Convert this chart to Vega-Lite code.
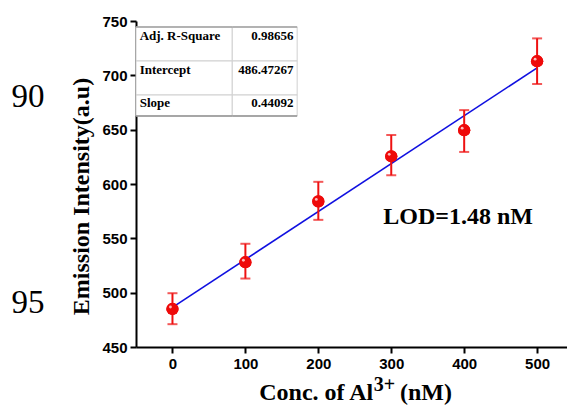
{
  "$schema": "https://vega.github.io/schema/vega-lite/v6.json",
  "width": 431,
  "height": 326,
  "autosize": {"type": "none"},
  "padding": {"left": 136, "top": 21, "right": 0, "bottom": 58},
  "background": "white",
  "config": {"view": {"stroke": null}},
  "datasets": {
    "pts": [
      {"conc": 0, "intensity": 485, "lo": 471, "hi": 499.5},
      {"conc": 100, "intensity": 528, "lo": 513, "hi": 545},
      {"conc": 200, "intensity": 584, "lo": 567, "hi": 602},
      {"conc": 300, "intensity": 625.5, "lo": 608, "hi": 645},
      {"conc": 400, "intensity": 649.5, "lo": 629.5, "hi": 668},
      {"conc": 500, "intensity": 713, "lo": 692, "hi": 734}
    ],
    "fit": [
      {"conc": 0, "intensity": 486.47267},
      {"conc": 500, "intensity": 706.93267}
    ],
    "cells": [
      {"x": -50, "x2": 82, "y": 744.5, "y2": 713.2},
      {"x": 82, "x2": 171, "y": 744.5, "y2": 713.2},
      {"x": -50, "x2": 82, "y": 713.2, "y2": 681.9},
      {"x": 82, "x2": 171, "y": 713.2, "y2": 681.9},
      {"x": -50, "x2": 82, "y": 681.9, "y2": 662.6},
      {"x": 82, "x2": 171, "y": 681.9, "y2": 662.6}
    ],
    "table": [
      {"name": "Adj. R-Square", "value": "0.98656", "y": 736.2},
      {"name": "Intercept", "value": "486.47267", "y": 704.9},
      {"name": "Slope", "value": "0.44092", "y": 674.5}
    ],
    "notes": [
      {"label": "LOD=1.48 nM", "x": 289, "y": 569.7}
    ],
    "stray": [
      {"label": "90", "x": -198, "y": 680.5},
      {"label": "95", "x": -198, "y": 490.9}
    ],
    "xtitle_main": [
      {"label": "Conc. of Al", "x": 275.3, "y": 401.5}
    ],
    "xtitle_sup": [
      {"label": "3+", "x": 276.0, "y": 409.5}
    ],
    "xtitle_unit": [
      {"label": "(nM)", "x": 312, "y": 401.5}
    ]
  },
  "layer": [
    {
      "data": {"name": "pts"},
      "mark": {"type": "point", "filled": true, "color": "#ee0a0a", "size": 150, "opacity": 1},
      "encoding": {
        "x": {"field": "conc", "type": "quantitative", "scale": {"domain": [-50, 541], "nice": false, "zero": false},
          "axis": {
            "values": [0, 100, 200, 300, 400, 500],
            "labelOverlap": false,
            "grid": false, "domainColor": "black", "domainWidth": 2, "tickColor": "black", "tickWidth": 2, "tickSize": 6,
            "labelFont": "Liberation Sans", "labelFontWeight": "bold", "labelFontSize": 15, "labelColor": "black", "labelPadding": 3,
            "title": null
          }},
        "y": {"field": "intensity", "type": "quantitative", "scale": {"domain": [450, 750], "nice": false, "zero": false},
          "axis": {
            "values": [450, 475, 500, 525, 550, 575, 600, 625, 650, 675, 700, 725, 750],
            "labelExpr": "datum.value % 50 == 0 ? datum.label : ''",
            "labelOverlap": false,
            "grid": false, "domainColor": "black", "domainWidth": 2, "tickColor": "black", "tickWidth": 2, "tickSize": 6,
            "labelFont": "Liberation Sans", "labelFontWeight": "bold", "labelFontSize": 15, "labelColor": "black", "labelPadding": 3,
            "title": "Emission Intensity(a.u)", "titleFont": "Liberation Serif", "titleFontWeight": "bold", "titleFontSize": 24, "titleColor": "black",
            "titleAngle": -90, "titleX": -55, "titleY": 175, "titleAlign": "center", "titleBaseline": "middle"
          }}
      }
    },
    {
      "data": {"name": "cells"},
      "mark": {"type": "rect", "fill": "white", "stroke": "#d0d0d0", "strokeWidth": 1},
      "encoding": {
        "x": {"field": "x", "type": "quantitative", "title": null},
        "x2": {"field": "x2"},
        "y": {"field": "y", "type": "quantitative", "title": "Emission Intensity(a.u)"},
        "y2": {"field": "y2"}
      }
    },
    {
      "data": {"name": "cells"},
      "mark": {"type": "rule", "stroke": "#909090", "strokeWidth": 1.5},
      "transform": [{"filter": "datum.y2 == 662.6"}],
      "encoding": {
        "x": {"field": "x", "type": "quantitative", "title": null},
        "x2": {"field": "x2"},
        "y": {"field": "y2", "type": "quantitative", "title": "Emission Intensity(a.u)"}
      }
    },
    {
      "data": {"name": "cells"},
      "mark": {"type": "rule", "stroke": "#a0a0a0", "strokeWidth": 1.5},
      "transform": [{"filter": "datum.y == 744.5"}],
      "encoding": {
        "x": {"field": "x", "type": "quantitative", "title": null},
        "x2": {"field": "x2"},
        "y": {"field": "y", "type": "quantitative", "title": "Emission Intensity(a.u)"}
      }
    },
    {
      "data": {"name": "table"},
      "mark": {"type": "text", "align": "left", "baseline": "middle", "font": "Liberation Serif", "fontWeight": "bold", "fontSize": 13, "color": "black"},
      "encoding": {
        "x": {"datum": -45, "type": "quantitative", "title": null},
        "y": {"field": "y", "type": "quantitative", "title": "Emission Intensity(a.u)"},
        "text": {"field": "name"}
      }
    },
    {
      "data": {"name": "table"},
      "mark": {"type": "text", "align": "right", "baseline": "middle", "font": "Liberation Serif", "fontWeight": "bold", "fontSize": 13, "color": "black"},
      "encoding": {
        "x": {"datum": 166, "type": "quantitative", "title": null},
        "y": {"field": "y", "type": "quantitative", "title": "Emission Intensity(a.u)"},
        "text": {"field": "value"}
      }
    },
    {
      "data": {"name": "fit"},
      "mark": {"type": "line", "color": "#1010e0", "strokeWidth": 1.6},
      "encoding": {
        "x": {"field": "conc", "type": "quantitative", "title": null},
        "y": {"field": "intensity", "type": "quantitative", "title": "Emission Intensity(a.u)"}
      }
    },
    {
      "data": {"name": "pts"},
      "mark": {"type": "errorbar", "color": "#ee1111", "thickness": 2, "ticks": {"size": 10, "thickness": 2, "color": "#ee1111"}},
      "encoding": {
        "x": {"field": "conc", "type": "quantitative", "title": null},
        "y": {"field": "lo", "type": "quantitative", "title": "Emission Intensity(a.u)"},
        "y2": {"field": "hi"}
      }
    },
    {
      "data": {"name": "pts"},
      "mark": {"type": "point", "filled": true, "color": "#ee0a0a", "size": 150, "opacity": 1},
      "encoding": {
        "x": {"field": "conc", "type": "quantitative", "title": null},
        "y": {"field": "intensity", "type": "quantitative", "title": "Emission Intensity(a.u)"}
      }
    },
    {
      "data": {"name": "pts"},
      "mark": {"type": "point", "filled": true, "color": "#ffd0d0", "size": 8, "opacity": 0.9, "xOffset": -2, "yOffset": -2},
      "encoding": {
        "x": {"field": "conc", "type": "quantitative", "title": null},
        "y": {"field": "intensity", "type": "quantitative", "title": "Emission Intensity(a.u)"}
      }
    },
    {
      "data": {"name": "notes"},
      "mark": {"type": "text", "align": "left", "baseline": "middle", "font": "Liberation Serif", "fontWeight": "bold", "fontSize": 24, "color": "black"},
      "encoding": {
        "x": {"field": "x", "type": "quantitative", "title": null},
        "y": {"field": "y", "type": "quantitative", "title": "Emission Intensity(a.u)"},
        "text": {"field": "label"}
      }
    },
    {
      "data": {"name": "stray"},
      "mark": {"type": "text", "align": "center", "baseline": "middle", "font": "Liberation Serif", "fontSize": 33, "color": "black"},
      "encoding": {
        "x": {"field": "x", "type": "quantitative", "title": null},
        "y": {"field": "y", "type": "quantitative", "title": "Emission Intensity(a.u)"},
        "text": {"field": "label"}
      }
    },
    {
      "data": {"name": "xtitle_main"},
      "mark": {"type": "text", "align": "right", "baseline": "alphabetic", "font": "Liberation Serif", "fontWeight": "bold", "fontSize": 24, "color": "black"},
      "encoding": {
        "x": {"field": "x", "type": "quantitative", "title": null},
        "y": {"field": "y", "type": "quantitative", "title": "Emission Intensity(a.u)"},
        "text": {"field": "label"}
      }
    },
    {
      "data": {"name": "xtitle_sup"},
      "mark": {"type": "text", "align": "left", "baseline": "alphabetic", "font": "Liberation Serif", "fontWeight": "bold", "fontSize": 20, "color": "black"},
      "encoding": {
        "x": {"field": "x", "type": "quantitative", "title": null},
        "y": {"field": "y", "type": "quantitative", "title": "Emission Intensity(a.u)"},
        "text": {"field": "label"}
      }
    },
    {
      "data": {"name": "xtitle_unit"},
      "mark": {"type": "text", "align": "left", "baseline": "alphabetic", "font": "Liberation Serif", "fontWeight": "bold", "fontSize": 24, "color": "black"},
      "encoding": {
        "x": {"field": "x", "type": "quantitative", "title": null},
        "y": {"field": "y", "type": "quantitative", "title": "Emission Intensity(a.u)"},
        "text": {"field": "label"}
      }
    }
  ]
}
